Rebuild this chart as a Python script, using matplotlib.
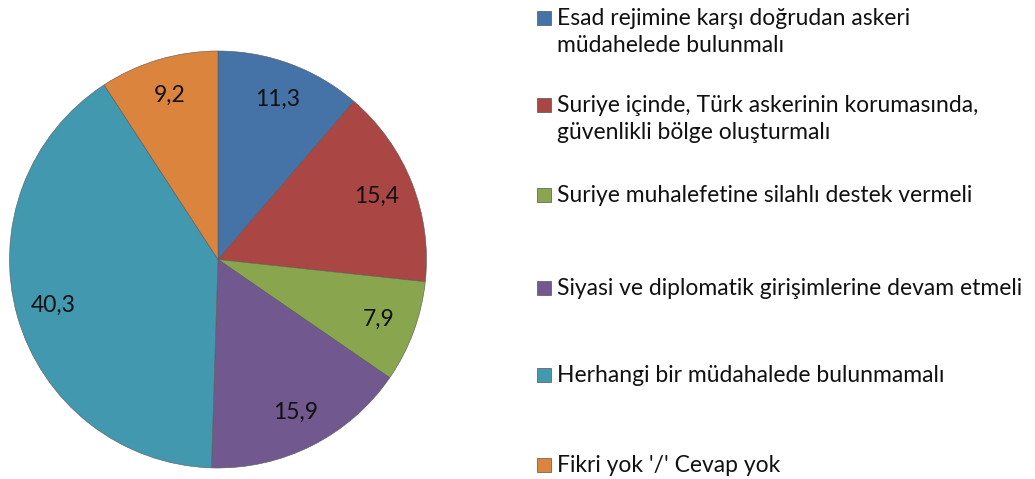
import matplotlib.pyplot as plt
from matplotlib.patches import Rectangle

categories = [
    "Esad rejimine karşı doğrudan askeri\nmüdahelede bulunmalı",
    "Suriye içinde, Türk askerinin korumasında,\ngüvenlikli bölge oluşturmalı",
    "Suriye muhalefetine silahlı destek vermeli",
    "Siyasi ve diplomatik girişimlerine devam etmeli",
    "Herhangi bir müdahalede bulunmamalı",
    "Fikri yok '/' Cevap yok",
]
values = [11.3, 15.4, 7.9, 15.9, 40.3, 9.2]
colors = ["#4572A7", "#AA4643", "#89A54E", "#71588F", "#4198AF", "#DB843D"]

plt.rcParams['font.family'] = ['Lato', 'DejaVu Sans']

W, H = 1035, 479
fig = plt.figure(figsize=(W / 100, H / 100), dpi=100)

# pie axes, placed in pixel terms
cx, cy, r = 218, 259.5, 208.5
ax = fig.add_axes([(cx - r) / W, (H - cy - r) / H, 2 * r / W, 2 * r / H])
labels = ['{:.1f}'.format(v).replace('.', ',') for v in values]
wedges, texts = ax.pie(values, colors=colors, startangle=90, counterclock=False,
                       labels=labels, labeldistance=0.82,
                       wedgeprops=dict(edgecolor='#5a5a5a', linewidth=0.4),
                       textprops=dict(fontsize=16.5, color='#111111', ha='center', va='center'))
ax.set_aspect('equal')
ax.set_xlim(-1, 1)
ax.set_ylim(-1, 1)

# legend drawn by hand so markers sit on the first line
baselines = [25, 112, 202, 295, 382, 472]
for lab, col, b in zip(categories, colors, baselines):
    fig.patches.append(Rectangle((537 / W, (H - b) / H), 14 / W, 14 / H,
                                 transform=fig.transFigure, facecolor=col,
                                 edgecolor='#555555', linewidth=0.5))
    lines = lab.split('\n')
    for k, line in enumerate(lines):
        fig.text(557 / W, (H - b - 27 * k) / H, line, fontsize=16.5,
                 color='#111111', va='baseline', ha='left')

fig.savefig('out.png', dpi=100)
